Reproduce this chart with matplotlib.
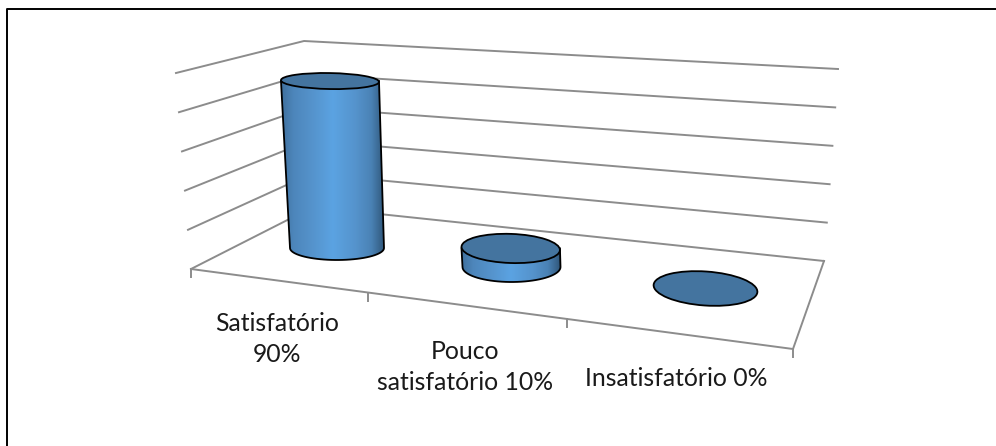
import numpy as np
import matplotlib
matplotlib.use("Agg")
import matplotlib.pyplot as plt
from matplotlib.colors import LinearSegmentedColormap
from matplotlib.patches import Ellipse, PathPatch
from matplotlib.path import Path
from matplotlib.transforms import Affine2D

# valores do grafico
categorias = ["Satisfatório\n90%", "Pouco\nsatisfatório 10%", "Insatisfatório 0%"]
valores = [90, 10, 0]
niveis = [0, 20, 40, 60, 80, 100]

# geometria da perspectiva, em pixels da imagem
canto_frente_esq = (191, 269)
canto_frente_dir = (793, 349)
canto_fundo_dir = (824, 261)
canto_fundo_esq = (313, 207)
topo_fundo_esq = (304, 41)
topo_fundo_dir = (838, 69)
topo_frente_esq = (176, 73)

base_x = [337, 511.5, 705.5]
base_y = [248, 267, 288.5]
raio_x = [47, 49, 52]
raio_y = [12, 15, 17]
inclina = [1, 2, 4]
px_por_pct = 1.855
desvio_x = -0.042
label_x = [277, 465, 676]
label_y = [339, 367, 378]

cinza = "#8c8c8c"
tampa = "#44749f"
degrade = LinearSegmentedColormap.from_list(
    "cil", [(0, "#3f6f9c"), (0.12, "#4d86bb"), (0.3, "#5593cc"), (0.5, "#5ba3e2"),
            (0.72, "#5593cc"), (0.87, "#4a82b5"), (1, "#2f5578")])


def mistura(a, b, t):
    return (a[0] + (b[0] - a[0]) * t, a[1] + (b[1] - a[1]) * t)


fig = plt.figure(figsize=(9.96, 4.46), dpi=100)
ax = fig.add_axes([0, 0, 1, 1])
ax.set_xlim(0, 996)
ax.set_ylim(446, 0)
ax.axis("off")

# moldura: a direita e a de baixo ficam fora do recorte
ax.plot([6.5, 6.5, 996], [446, 8.5, 8.5], color="black", lw=1.4, zorder=1)

# paredes e chao
for n in niveis:
    t = n / 100
    e = mistura(canto_frente_esq, topo_frente_esq, t)
    m = mistura(canto_fundo_esq, topo_fundo_esq, t)
    d = mistura(canto_fundo_dir, topo_fundo_dir, t)
    ax.plot([e[0], m[0], d[0]], [e[1], m[1], d[1]], color=cinza, lw=1.4, zorder=1)

ax.plot([canto_frente_esq[0], canto_frente_dir[0], canto_fundo_dir[0]],
        [canto_frente_esq[1], canto_frente_dir[1], canto_fundo_dir[1]],
        color=cinza, lw=1.4, zorder=1)

# marcas do eixo
for t in [0, 177 / 602, 376 / 602, 1]:
    p = mistura(canto_frente_esq, canto_frente_dir, t)
    ax.plot([p[0], p[0]], [p[1], p[1] + 8], color=cinza, lw=1.4, zorder=1)

# cilindros
for i, v in enumerate(valores):
    h = v * px_por_pct
    x0, y0 = base_x[i], base_y[i]
    x1, y1 = x0 + desvio_x * h, y0 - h
    rx, ry = raio_x[i], raio_y[i]
    rx_topo = rx + 0.012 * h
    ry_topo = ry - 0.024 * h
    if v > 0:
        ang = np.linspace(0, np.pi, 40)
        bx = x0 + rx * np.cos(ang)
        by = y0 + ry * np.sin(ang)
        verts = [(x1 - rx_topo, y1)] + list(zip(bx[::-1], by[::-1])) + [(x1 + rx_topo, y1)]
        verts.append(verts[0])
        codes = [Path.MOVETO] + [Path.LINETO] * (len(verts) - 2) + [Path.CLOSEPOLY]
        lado = PathPatch(Path(verts, codes), fc="none", ec="black", lw=1.3, zorder=3)
        ax.add_patch(lado)
        x_min, x_max = min(x1 - rx_topo, x0 - rx), max(x1 + rx_topo, x0 + rx)
        grad = ax.imshow(np.linspace(0, 1, 256)[None, :], cmap=degrade, aspect="auto",
                         extent=[x_min, x_max, y0 + ry + 1, y1 - 1], zorder=2)
        grad.set_clip_path(lado)
    topo = Ellipse((x1, y1), 2 * rx_topo, 2 * ry_topo, fc=tampa, ec="black", lw=1.3, zorder=4)
    topo.set_transform(Affine2D().rotate_deg_around(x1, y1, inclina[i]) + ax.transData)
    ax.add_patch(topo)

ax.set_xlim(0, 996)
ax.set_ylim(446, 0)

for nome, x, y in zip(categorias, label_x, label_y):
    ax.text(x, y, nome, ha="center", va="center", fontsize=17.8, family="Lato",
            color="#1a1a1a", linespacing=1.46)

fig.savefig("out.png", dpi=100)
